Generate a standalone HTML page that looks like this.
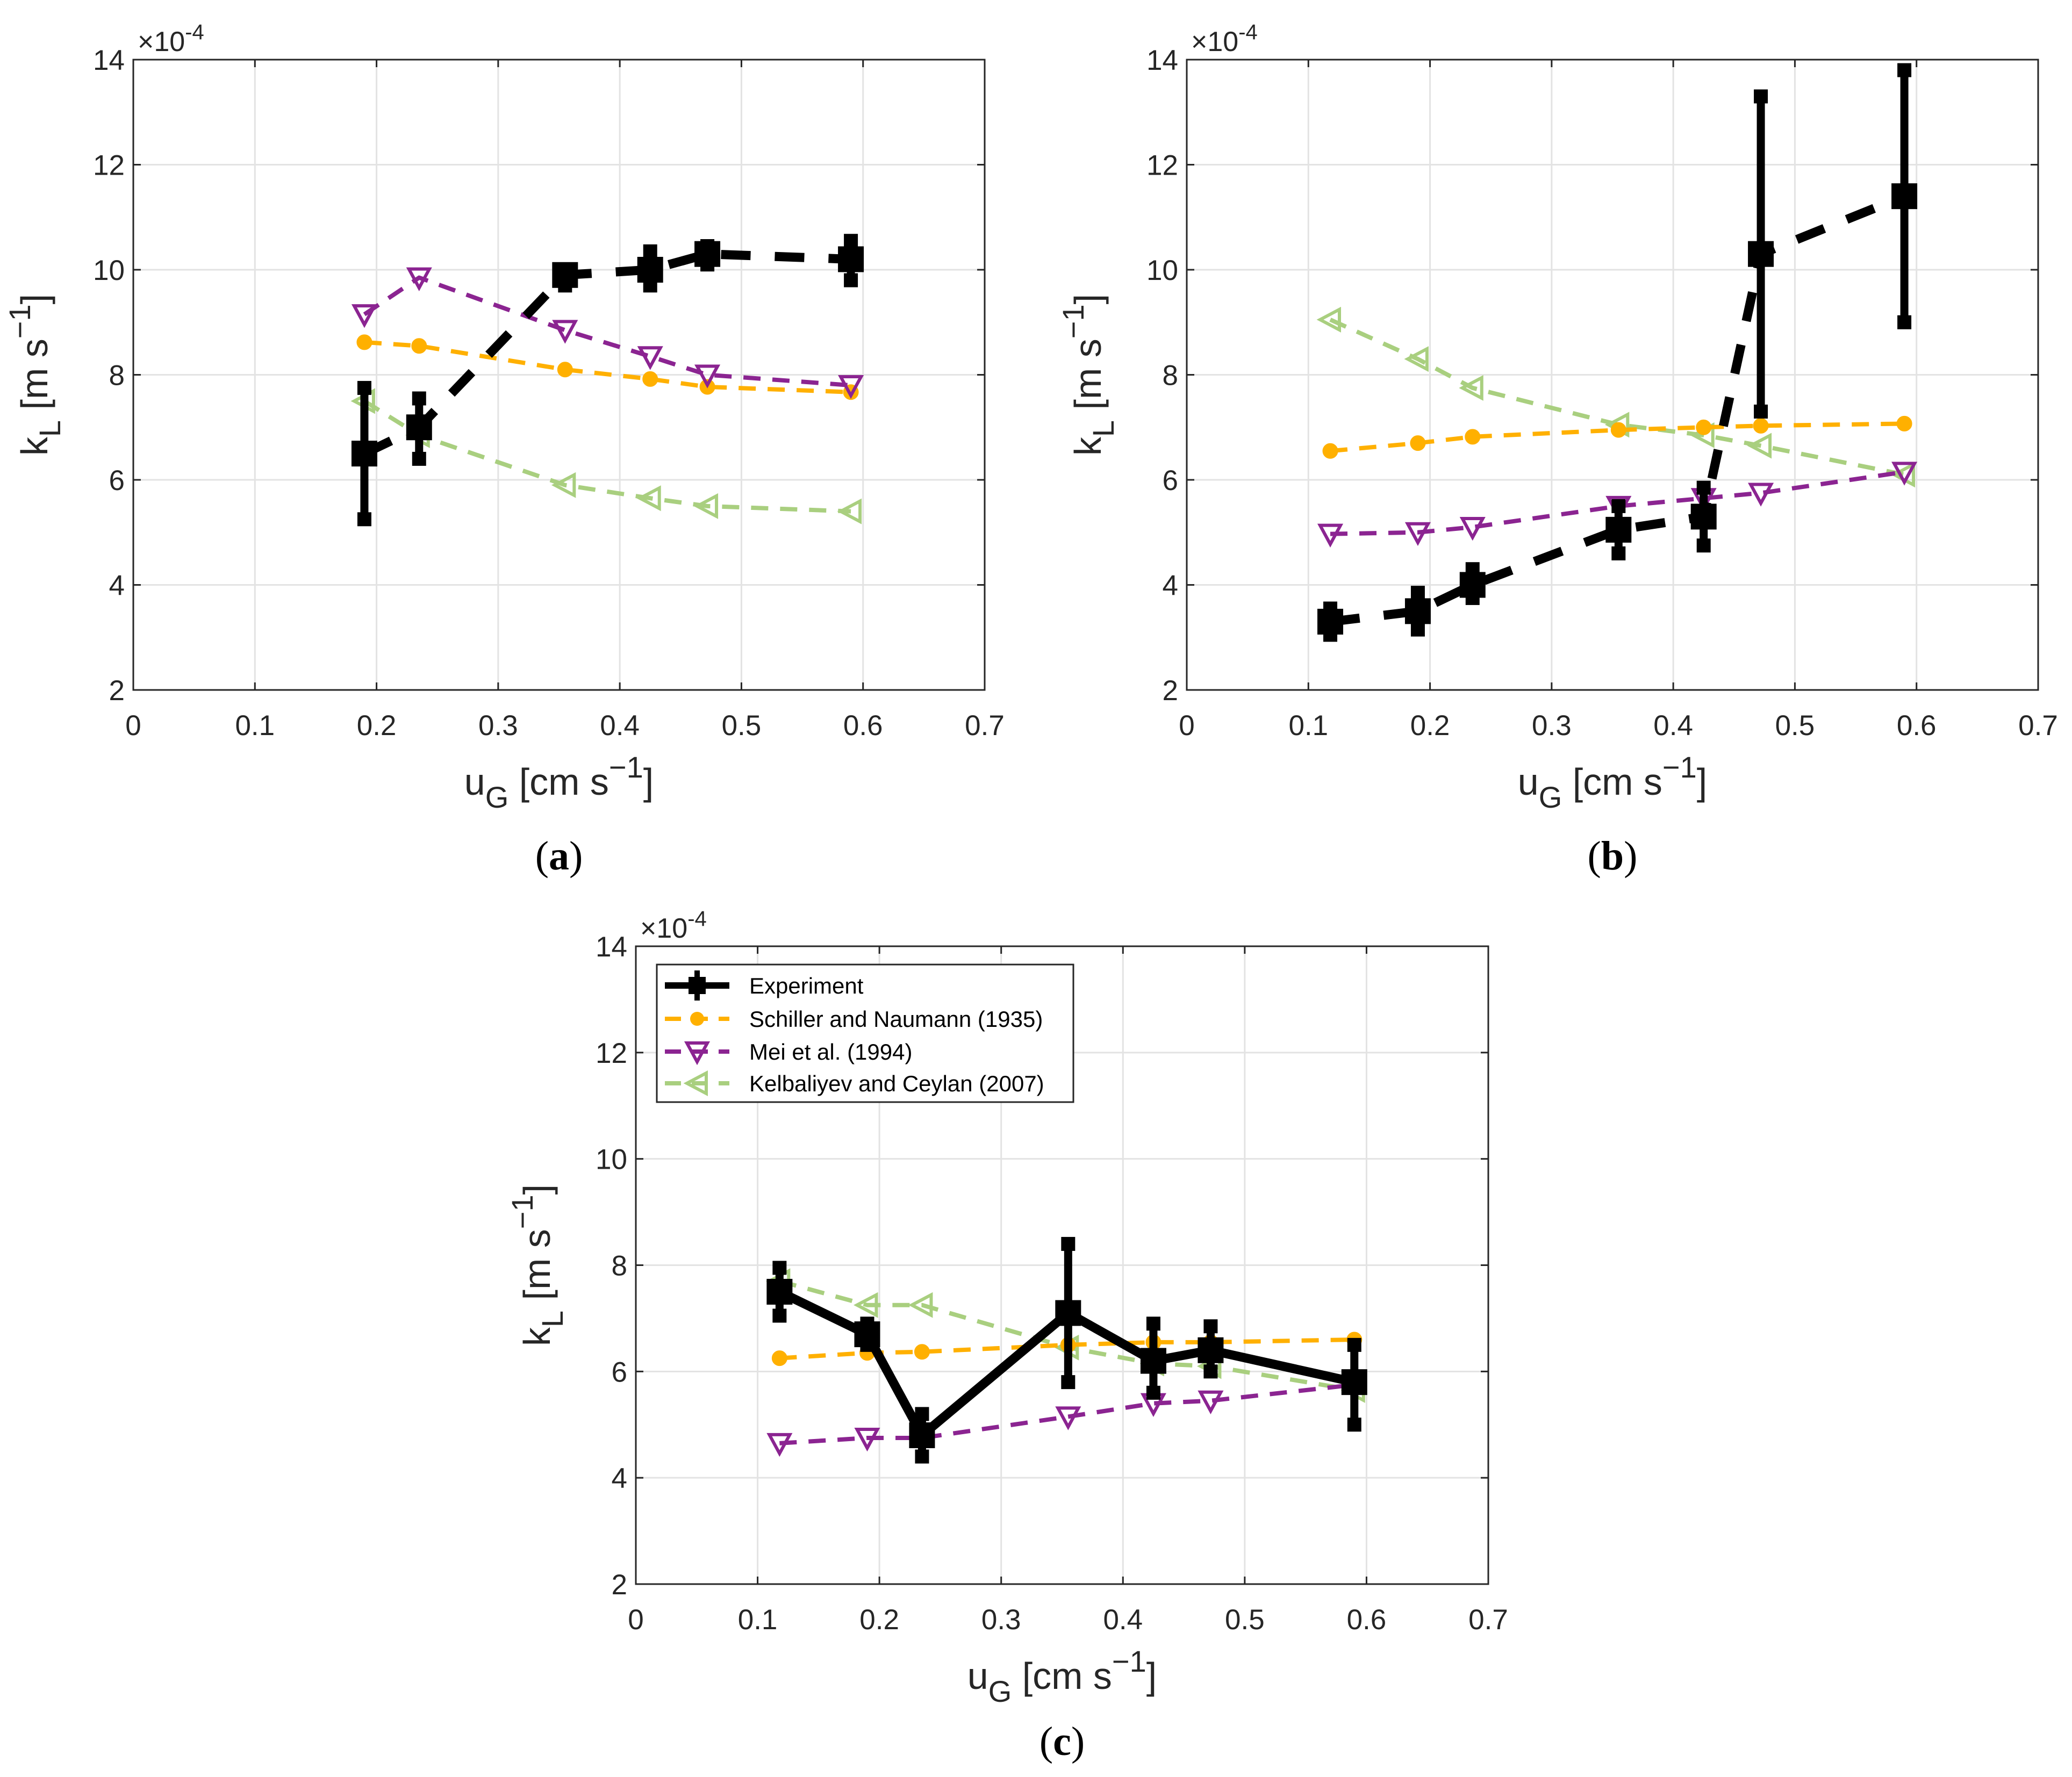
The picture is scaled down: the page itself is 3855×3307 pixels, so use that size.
<!DOCTYPE html>
<html><head><meta charset="utf-8">
<style>
html,body{margin:0;padding:0;background:#fff;}
svg{display:block;}
text{font-family:"Liberation Sans",Arial,sans-serif;}
text.serif{font-family:"Liberation Serif",serif;}
</style></head>
<body>
<svg id="fig" width="3855" height="3307" viewBox="0 0 3855 3307" xmlns="http://www.w3.org/2000/svg"></svg>
<script>
// ---------- data ----------
const xA = [0.19, 0.235, 0.355, 0.425, 0.472, 0.59];
const expA = [6.5, 7.0, 9.9, 10.0, 10.3, 10.2];
const expALo = [5.25, 6.4, 9.7, 9.7, 10.1, 9.8];
const expAHi = [7.75, 7.55, 10.0, 10.35, 10.45, 10.55];
const schA = [8.62, 8.55, 8.1, 7.92, 7.77, 7.67];
const meiA = [9.15, 9.85, 8.85, 8.35, 8.0, 7.8];
const kelA = [7.5, 6.85, 5.9, 5.65, 5.5, 5.4];

const xB = [0.118, 0.19, 0.235, 0.355, 0.425, 0.472, 0.59];
const expB = [3.3, 3.5, 4.0, 5.05, 5.3, 10.3, 11.4];
const expBLo = [3.05, 3.15, 3.75, 4.6, 4.75, 7.3, 9.0];
const expBHi = [3.55, 3.85, 4.3, 5.5, 5.85, 13.3, 13.8];
const schB = [6.55, 6.7, 6.82, 6.95, 7.0, 7.03, 7.07];
const meiB = [4.97, 5.0, 5.1, 5.5, 5.65, 5.75, 6.15];
const kelB = [9.05, 8.3, 7.75, 7.05, 6.85, 6.65, 6.1];

const xC = [0.118, 0.19, 0.235, 0.355, 0.425, 0.472, 0.59];
const expC = [7.5, 6.7, 4.8, 7.1, 6.2, 6.4, 5.8];
const expCLo = [7.05, 6.5, 4.4, 5.8, 5.6, 6.0, 5.0];
const expCHi = [7.95, 6.9, 5.2, 8.4, 6.9, 6.85, 6.5];
const schC = [6.25, 6.35, 6.37, 6.5, 6.55, 6.55, 6.6];
const meiC = [4.65, 4.75, 4.75, 5.15, 5.4, 5.45, 5.75];
const kelC = [7.7, 7.25, 7.25, 6.45, 6.15, 6.1, 5.65];

const xTicks = [0, 0.1, 0.2, 0.3, 0.4, 0.5, 0.6, 0.7];
const xTickLabels = ["0","0.1","0.2","0.3","0.4","0.5","0.6","0.7"];
const yTicks = [2, 4, 6, 8, 10, 12, 14];
const yTickLabels = ["2","4","6","8","10","12","14"];
const legendLabels = ["Experiment","Schiller and Naumann (1935)","Mei et al. (1994)","Kelbaliyev and Ceylan  (2007)"];

const ORANGE="#FFB000", PURPLE="#8B2491", GREEN="#A9CF7F";
const NS="http://www.w3.org/2000/svg";
const svg=document.getElementById('fig');
function mk(tag, attrs, parent){
  const e=document.createElementNS(NS,tag);
  for(const k in attrs) e.setAttribute(k, attrs[k]);
  (parent||svg).appendChild(e); return e;
}

function panel(name, L, R, T, B, xs, exp, lo, hi, sch, mei, kel, solid, label, labelY, legend){
  const g=mk('g',{});
  
  
  const sx=v=>L+(v-0)/(0.7)*(R-L);
  const sy=v=>B-(v-2)/12*(B-T);
  xTicks.forEach((t,i)=>{
    const gl=mk('line',{x1:sx(t),x2:sx(t),y1:T,y2:B,stroke:'#e3e3e3','stroke-width':3},g);
    
    
    const tl=mk('text',{x:sx(t),y:B+84,'font-size':53,'text-anchor':'middle',fill:'#262626'},g);
    tl.textContent=xTickLabels[i];
    
    
    mk('line',{x1:sx(t),x2:sx(t),y1:B,y2:B-14,stroke:'#262626','stroke-width':3},g);
    mk('line',{x1:sx(t),x2:sx(t),y1:T,y2:T+14,stroke:'#262626','stroke-width':3},g);
  });
  yTicks.forEach((t,i)=>{
    const gl=mk('line',{x1:L,x2:R,y1:sy(t),y2:sy(t),stroke:'#e3e3e3','stroke-width':3},g);
    
    
    const tl=mk('text',{x:L-16,y:sy(t)+19,'font-size':53,'text-anchor':'end',fill:'#262626'},g);
    tl.textContent=yTickLabels[i];
    
    
    mk('line',{x1:L,x2:L+14,y1:sy(t),y2:sy(t),stroke:'#262626','stroke-width':3},g);
    mk('line',{x1:R,x2:R-14,y1:sy(t),y2:sy(t),stroke:'#262626','stroke-width':3},g);
  });
  const box=mk('rect',{x:L,y:T,width:R-L,height:B-T,fill:'none',stroke:'#262626','stroke-width':3},g);
  
  
  const ex=mk('text',{x:L+8,y:T-16,'font-size':52,fill:'#262626'},g);
  ex.innerHTML='×10<tspan dy="-22" font-size="40">-4</tspan>';
  
  
  const xl=mk('text',{x:(L+R)/2,y:B+195,'font-size':70,'text-anchor':'middle',fill:'#262626'},g);
  xl.innerHTML='u<tspan dy="24" font-size="56">G</tspan><tspan dy="-24"> [cm s</tspan><tspan dy="-32" font-size="56">−1</tspan><tspan dy="32">]</tspan>';
  
  
  const cy=(T+B)/2;
  const yl=mk('text',{x:0,y:0,'font-size':70,'text-anchor':'middle',fill:'#262626',transform:`translate(${L-160},${cy}) rotate(-90)`},g);
  yl.innerHTML='k<tspan dy="24" font-size="56">L</tspan><tspan dy="-24"> [m s</tspan><tspan dy="-32" font-size="56">−1</tspan><tspan dy="32">]</tspan>';
  
  
  const pl=mk('text',{x:(L+R)/2,y:labelY,'font-size':76,'text-anchor':'middle',fill:'#000','class':'serif'},g);
  pl.innerHTML='(<tspan font-weight="bold">'+label+'</tspan>)';
  
  

  function line(vals,color,w,dash,nm){
    const p=mk('polyline',{points:xs.map((x,i)=>sx(x)+','+sy(vals[i])).join(' '),fill:'none',stroke:color,'stroke-width':w,'stroke-dasharray':dash||'none','stroke-linejoin':'round'},g);
    
    
  }
  line(kel,GREEN,8,'32 22','kelbaliyev-line');
  xs.forEach((x,i)=>{const X=sx(x),Y=sy(kel[i]);
    const m=mk('polygon',{points:`${X-19},${Y} ${X+17},${Y-19} ${X+17},${Y+19}`,fill:'none',stroke:GREEN,'stroke-width':6},g);
    
    });
  line(sch,ORANGE,8,'32 22','schiller-line');
  xs.forEach((x,i)=>{
    const m=mk('circle',{cx:sx(x),cy:sy(sch[i]),r:13,fill:ORANGE,stroke:ORANGE,'stroke-width':3},g);
    
    });
  line(mei,PURPLE,8,'32 22','mei-line');
  xs.forEach((x,i)=>{const X=sx(x),Y=sy(mei[i]);
    const m=mk('polygon',{points:`${X-19},${Y-16} ${X+19},${Y-16} ${X},${Y+19}`,fill:'none',stroke:PURPLE,'stroke-width':6},g);
    
    });
  line(exp,'#000',17,solid?null:'55 45','experiment-line');
  xs.forEach((x,i)=>{const X=sx(x);
    const eb=mk('line',{x1:X,x2:X,y1:sy(lo[i]),y2:sy(hi[i]),stroke:'#000','stroke-width':15},g);
    
    
    mk('rect',{x:X-13,y:sy(lo[i])-13,width:26,height:26,fill:'#000'},g);
    mk('rect',{x:X-13,y:sy(hi[i])-13,width:26,height:26,fill:'#000'},g);
    const m=mk('rect',{x:X-24,y:sy(exp[i])-24,width:48,height:48,fill:'#000'},g);
    
    });

  if(legend){
    const lg=mk('g',{},g);
    
    
    mk('rect',{x:1222,y:1795,width:775,height:256,fill:'#fff',stroke:'#262626','stroke-width':3},lg);
    const ys=[1834,1896,1957,2016];
    const cols=['#000',ORANGE,PURPLE,GREEN];
    ys.forEach((y,i)=>{
      const e=mk('g',{},lg);
      
      
      mk('line',{x1:1237,x2:1357,y1:y,y2:y,stroke:cols[i],'stroke-width':i==0?12:8,'stroke-dasharray':i==0?'none':'30 20'},e);
      const c=1297;
      if(i==0){mk('rect',{x:c-16,y:y-16,width:32,height:32,fill:'#000'},e);mk('line',{x1:c,x2:c,y1:y-28,y2:y+28,stroke:'#000','stroke-width':10},e);}
      if(i==1) mk('circle',{cx:c,cy:y,r:13,fill:ORANGE},e);
      if(i==2) mk('polygon',{points:`${c-19},${y-16} ${c+19},${y-16} ${c},${y+19}`,fill:'none',stroke:PURPLE,'stroke-width':6},e);
      if(i==3) mk('polygon',{points:`${c-19},${y} ${c+17},${y-19} ${c+17},${y+19}`,fill:'none',stroke:GREEN,'stroke-width':6},e);
      const t=mk('text',{x:1394,y:y+15,'font-size':42,fill:'#000'},e);
      t.textContent=legendLabels[i];
    });
  }
}
panel('a',248,1832,111,1284,xA,expA,expALo,expAHi,schA,meiA,kelA,false,'a',1618,false);
panel('b',2208,3792,111,1284,xB,expB,expBLo,expBHi,schB,meiB,kelB,false,'b',1618,false);
panel('c',1183,2769,1761,2948,xC,expC,expCLo,expCHi,schC,meiC,kelC,true,'c',3266,true);
</script>
</body></html>
